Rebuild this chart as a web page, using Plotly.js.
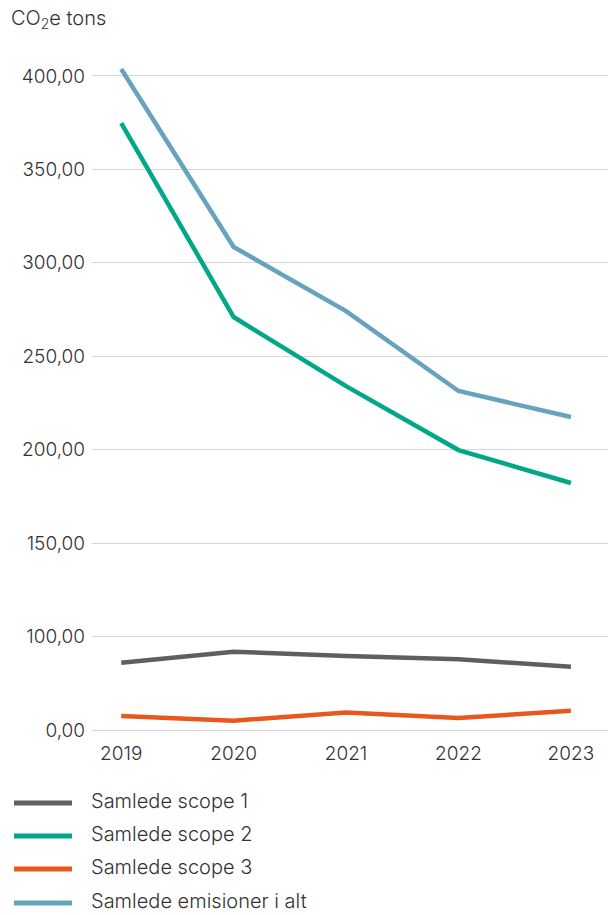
<!DOCTYPE html>
<html>
<head>
<meta charset="utf-8">
<script src="https://cdn.plot.ly/plotly-3.0.1.min.js"></script>
<style>html,body{margin:0;padding:0;background:#fff;}#chart{width:610px;height:915px;}</style>
</head>
<body>
<div id="chart"></div>
<script>
const years = ['2019', '2020', '2021', '2022', '2023'];
const seriesNames = ['Samlede scope 1', 'Samlede scope 2', 'Samlede scope 3', 'Samlede emisioner i alt'];
const scope1 = [36.0, 41.9, 39.6, 37.8, 33.9];
const scope2 = [324.8, 221.0, 184.0, 149.8, 132.2];
const scope3 = [7.5, 5.0, 9.3, 6.4, 10.3];
const total = [353.7, 258.5, 224.2, 181.4, 167.5];
const tickVals = [0, 50, 100, 150, 200, 250, 300, 350];
const tickText = ['0,00', '100,00', '150,00', '200,00', '250,00', '300,00', '350,00', '400,00'];
const colors = ['#5f5f5f', '#00a887', '#e8571b', '#67a3bf'];

const values = [scope1, scope2, scope3, total];
const FONT = 'Inter, "Noto Sans", sans-serif';
const traces = values.map((v, i) => ({
  x: years, y: v, type: 'scatter', mode: 'lines', name: seriesNames[i],
  line: {color: colors[i], width: 4.5}, showlegend: false
}));

// layout geometry (pixels)
const W = 610, H = 915, ml = 92, mr = 2, mt = 50, mb = 175;
const pw = W - ml - mr, ph = H - mt - mb;
const px2x = X => (X - ml) / pw;
const px2y = Y => (H - mb - Y) / ph;
const legendY = [803, 836, 869, 903];
const shapes = [], annotations = [];
seriesNames.forEach((n, i) => {
  shapes.push({type: 'line', xref: 'paper', yref: 'paper',
    x0: px2x(14), x1: px2x(72), y0: px2y(legendY[i]), y1: px2y(legendY[i]),
    line: {color: colors[i], width: 5}});
  annotations.push({xref: 'paper', yref: 'paper', x: px2x(89), y: px2y(legendY[i] - 2),
    xanchor: 'left', yanchor: 'middle', showarrow: false, text: n,
    font: {family: FONT, size: 20, color: '#333', weight: 300}});
});

const layout = {
  width: W, height: H,
  margin: {l: ml, r: mr, t: mt, b: mb},
  paper_bgcolor: '#fff', plot_bgcolor: '#fff',
  showlegend: false,
  font: {family: FONT, size: 17, color: '#333'},
  title: {text: 'CO<sub>2</sub>e tons', xref: 'container', yref: 'container',
    x: 11 / W, xanchor: 'left', y: 1 - 18 / H, yanchor: 'middle',
    font: {family: FONT, size: 20, color: '#333', weight: 300}},
  xaxis: {type: 'category', range: [-0.26, 4.33], showgrid: false, zeroline: false,
    showline: false, ticks: '', tickfont: {family: FONT, size: 19, color: '#333', weight: 300}},
  yaxis: {range: [-5.35, 363.9], tickvals: tickVals, ticktext: tickText,
    showgrid: true, gridcolor: '#d6d6d6', gridwidth: 1, zeroline: false, showline: false,
    ticks: '', ticklabelstandoff: 6, tickfont: {family: FONT, size: 19, color: '#333', weight: 300}},
  shapes: shapes, annotations: annotations
};
Plotly.newPlot('chart', traces, layout, {displayModeBar: false, staticPlot: true});
</script>
</body>
</html>
